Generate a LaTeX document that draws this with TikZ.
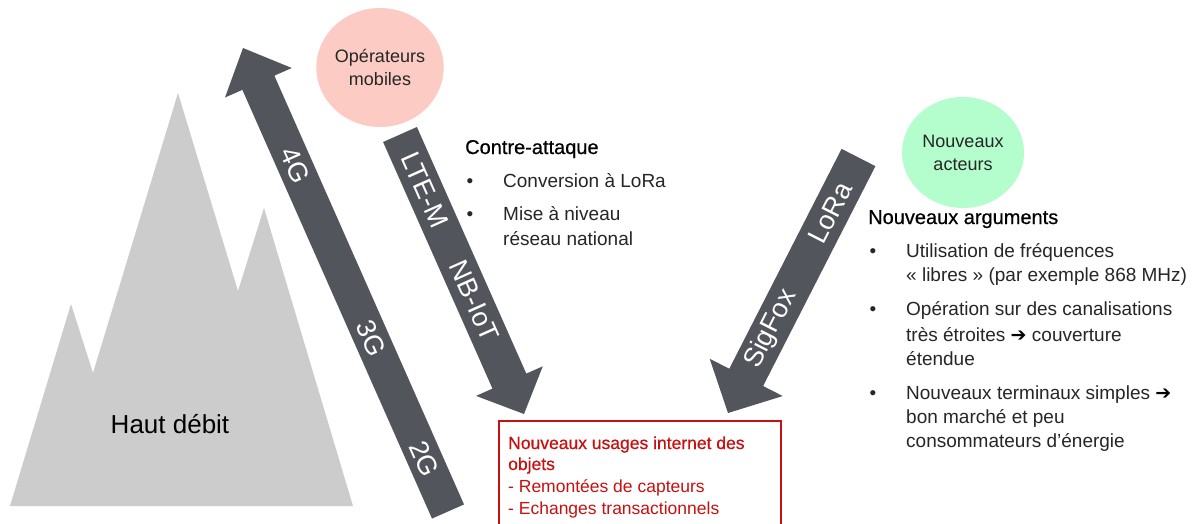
\documentclass[tikz,border=0pt]{standalone}
\usepackage{fontspec}
\setmainfont{Liberation Sans}
\newfontfamily\medfont{Liberation Sans}[FakeBold=0.6]
\newfontfamily\symfont{DejaVu Sans}
\usetikzlibrary{calc,shapes.geometric}
\definecolor{arrowgray}{RGB}{82,86,92}
\definecolor{mount}{RGB}{204,204,204}
\definecolor{pinkc}{RGB}{252,204,196}
\definecolor{greenc}{RGB}{180,253,205}
\definecolor{boxred}{RGB}{200,16,16}
\definecolor{bodytext}{RGB}{38,38,38}
% name, tail, tip, half width, half head width, head length
\newcommand\blockarrow[6]{%
  \coordinate (#1-h) at ($(#3)!#6!(#2)$);
  \fill[arrowgray] ($(#2)!#4!90:(#3)$) -- ($(#1-h)!#4!90:(#3)$) -- ($(#1-h)!#5!90:(#3)$) -- (#3)
    -- ($(#1-h)!#5!-90:(#3)$) -- ($(#1-h)!#4!-90:(#3)$) -- ($(#2)!#4!-90:(#3)$) -- cycle;}
\newcommand\heavyarrow{{\symfont\bfseries\color{black}➔}}
\tikzset{
  lbl/.style={text=white, font=\fontsize{27}{32}\selectfont, inner sep=0pt},
  body/.style={text=bodytext, font=\fontsize{19}{23}\selectfont, anchor=base west, inner sep=0pt},
  head/.style={text=black, font=\medfont\fontsize{20}{24}\selectfont, anchor=base west, inner sep=0pt},
  bul/.style={text=bodytext, font=\fontsize{19}{23}\selectfont, anchor=base, inner sep=0pt},
  redhead/.style={text=boxred, font=\medfont\fontsize{17.5}{21}\selectfont, anchor=base west, inner sep=0pt},
  redbody/.style={text=boxred, font=\fontsize{17.5}{21}\selectfont, anchor=base west, inner sep=0pt},
  bubble/.style={ellipse, inner sep=0pt, text=bodytext, font=\fontsize{18}{23}\selectfont, align=center},
}
\begin{document}
\begin{tikzpicture}[x=1pt,y=-1pt]
\useasboundingbox (0,0) rectangle (1199,523);
\clip (0,0) rectangle (1199,523);
\fill[white] (0,0) rectangle (1199,523);

% mountain
\fill[mount] (10,506) -- (71,304) -- (93,373) -- (178,93) -- (238,291) -- (264,208) -- (353,506) -- cycle;
\node[text=black, font=\fontsize{26}{30}\selectfont, inner sep=0pt] (hd) at (170,424) {Haut débit};

% bubbles
\node[bubble, fill=pinkc, minimum width=124pt, minimum height=119pt] (op) at (380,67.5) {Opérateurs\\mobiles};
\node[bubble, fill=greenc, minimum width=122pt, minimum height=111pt] (na) at (963,152.5) {Nouveaux\\acteurs};

% arrows
\coordinate (gt) at (448,511.5);
\coordinate (gh) at (243,48);
\blockarrow{ga}{gt}{gh}{17.5pt}{36.5pt}{38pt}
\coordinate (lt) at (400,134.5);
\coordinate (lh) at (524,414);
\blockarrow{la}{lt}{lh}{18.5pt}{36.5pt}{36pt}
\coordinate (st) at (858.5,157.5);
\coordinate (sh) at (728,413);
\blockarrow{sa}{st}{sh}{19pt}{41pt}{40pt}

\node[lbl, rotate=-66] (g4) at ($(gt)!0.747!(gh)$) {4G};
\node[lbl, rotate=-66] (g3) at ($(gt)!0.374!(gh)$) {3G};
\node[lbl, rotate=-66] (g2) at ($(gt)!0.114!(gh)$) {2G};
\node[lbl, rotate=-66] (ltem) at ($(lt)!0.199!(lh)$) {LTE-M};
\node[lbl, rotate=-66] (nbiot) at ($(lt)!0.596!(lh)$) {NB-IoT};
\node[lbl, rotate=63] (lora) at ($(st)!0.217!(sh)$) {LoRa};
\node[lbl, rotate=63] (sigfox) at ($(st)!0.671!(sh)$) {SigFox};

% left text block
\node[head] (ca) at (465,154) {Contre-attaque};
\node[bul] (cb1) at (470,187) {•};
\node[body] (c1) at (503,187) {Conversion à LoRa};
\node[bul] (cb2) at (470,220) {•};
\node[body] (c2) at (503,220) {Mise à niveau};
\node[body] (c3) at (503,245) {réseau national};

% right text block
\node[head] (nh) at (868,224) {Nouveaux arguments};
\node[bul] (rb1) at (873,257) {•};
\node[body] (r1) at (906,257) {Utilisation de fréquences};
\node[body] (r2) at (906,281) {« libres » (par exemple 868 MHz)};
\node[bul] (rb2) at (873,315) {•};
\node[body] (r3) at (906,315) {Opération sur des canalisations};
\node[body] (r4) at (906,341) {très étroites \heavyarrow{} couverture};
\node[body] (r5) at (906,365) {étendue};
\node[bul] (rb3) at (873,399) {•};
\node[body] (r6) at (906,399) {Nouveaux terminaux simples \heavyarrow};
\node[body] (r7) at (906,423) {bon marché et peu};
\node[body] (r8) at (906,447) {consommateurs d’énergie};

% red box
\node[draw=boxred, line width=1.5pt, minimum width=282pt, minimum height=115pt, anchor=north west, inner sep=0pt] (box) at (498,420) {};
\node[redhead] (b1) at (508,449) {Nouveaux usages internet des};
\node[redhead] (b2) at (508,470) {objets};
\node[redbody] (b3) at (508,492) {- Remontées de capteurs};
\node[redbody] (b4) at (508,514) {- Echanges transactionnels};
\end{tikzpicture}
\end{document}
